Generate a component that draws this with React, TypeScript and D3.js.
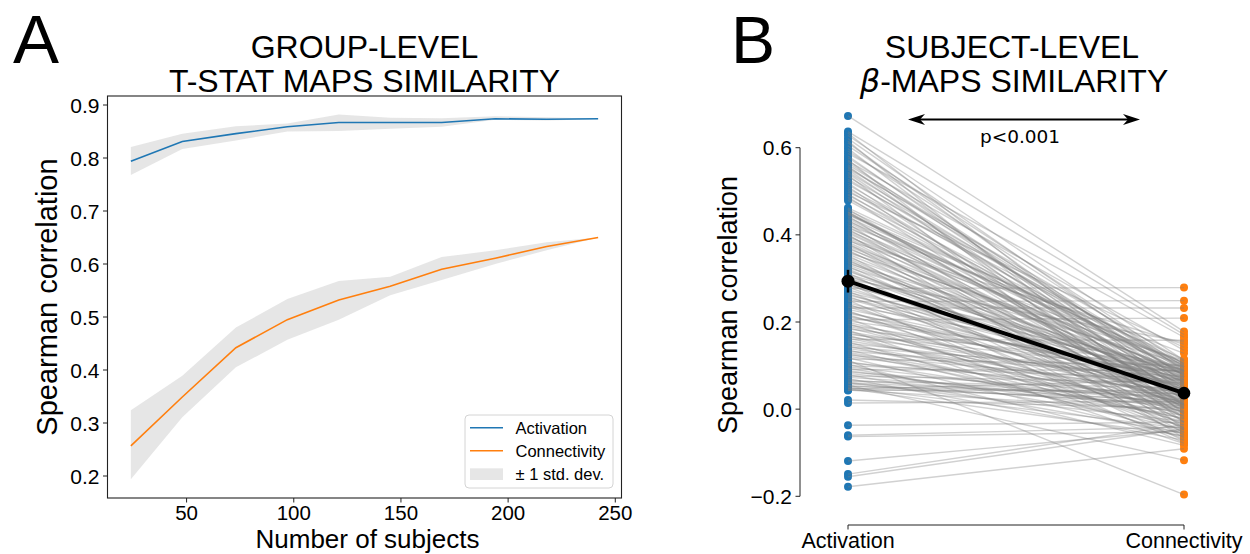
import React from "react";
import * as d3 from "d3";

// ---------- Panel A: group-level similarity vs. number of subjects ----------
const subjectCounts = [24, 48, 73, 97, 121, 145, 169, 194, 218, 242];

const activationMean = [0.794, 0.831, 0.846, 0.859, 0.867, 0.867, 0.867, 0.874, 0.873, 0.874];
const activationUpper = [0.821, 0.846, 0.86, 0.865, 0.882, 0.876, 0.875, 0.879, 0.877, 0.874];
const activationLower = [0.768, 0.817, 0.833, 0.85, 0.851, 0.855, 0.859, 0.872, 0.871, 0.873];

const connectivityMean = [0.257, 0.349, 0.442, 0.495, 0.532, 0.558, 0.59, 0.611, 0.633, 0.65];
const connectivityUpper = [0.324, 0.389, 0.48, 0.534, 0.568, 0.576, 0.613, 0.626, 0.641, 0.65];
const connectivityLower = [0.194, 0.311, 0.405, 0.457, 0.495, 0.541, 0.57, 0.6, 0.626, 0.65];

const xTicksA = [50, 100, 150, 200, 250];
const yTicksA = [0.2, 0.3, 0.4, 0.5, 0.6, 0.7, 0.8, 0.9];

// ---------- Panel B: subject-level similarity, paired per subject ----------
const conditions = ["Activation", "Connectivity"];
const yTicksB = [-0.2, 0.0, 0.2, 0.4, 0.6];

const activationRho = [
  0.637, 0.633, 0.628, 0.621, 0.615, 0.611, 0.604, 0.598, 0.592, 0.587,
  0.581, 0.577, 0.572, 0.569, 0.566, 0.561, 0.558, 0.555, 0.552, 0.549,
  0.544, 0.541, 0.537, 0.533, 0.528, 0.524, 0.519, 0.515, 0.511, 0.506,
  0.502, 0.498, 0.494, 0.491, 0.487, 0.483, 0.479, 0.462, 0.459, 0.456,
  0.453, 0.451, 0.449, 0.447, 0.452,
  0.446, 0.443, 0.44, 0.437, 0.434, 0.431, 0.428, 0.425, 0.422, 0.419,
  0.416, 0.413, 0.41, 0.407, 0.404, 0.401, 0.398, 0.395, 0.392, 0.389,
  0.386, 0.383, 0.38, 0.377, 0.374, 0.371, 0.368, 0.365, 0.362, 0.359,
  0.356, 0.353,
  0.349, 0.346, 0.343, 0.34, 0.337, 0.334, 0.331, 0.328, 0.325, 0.322,
  0.319, 0.316, 0.313, 0.31, 0.307, 0.304, 0.301, 0.298, 0.295, 0.292,
  0.289, 0.286, 0.283, 0.28, 0.277, 0.274, 0.271, 0.268, 0.265, 0.262,
  0.259, 0.256, 0.253, 0.25, 0.247,
  0.244, 0.241, 0.238, 0.235, 0.232, 0.229, 0.226, 0.223, 0.22, 0.217,
  0.214, 0.211, 0.208, 0.205, 0.202, 0.199, 0.196, 0.193, 0.19, 0.187,
  0.184, 0.181, 0.178, 0.175, 0.172, 0.169, 0.166, 0.163, 0.16, 0.157,
  0.154, 0.151, 0.148, 0.145, 0.142,
  0.139, 0.136, 0.133, 0.13, 0.127, 0.124, 0.121, 0.118, 0.115, 0.112,
  0.109, 0.106, 0.103, 0.1, 0.097, 0.094, 0.091, 0.088, 0.085, 0.082,
  0.079, 0.076, 0.073, 0.07, 0.067, 0.064, 0.061, 0.058, 0.055, 0.052,
  0.05, 0.048, 0.046, 0.044, 0.043, 0.047, 0.054, 0.06,
  0.673, 0.021, 0.014, -0.037, -0.06, -0.063, -0.119, -0.149, -0.155, -0.178,
];

const connectivityRho = [
  0.171, 0.034, 0.112, 0.088, -0.012, 0.061, 0.103, 0.019, 0.097, 0.165,
  0.045, 0.074, -0.031, 0.135, 0.056, 0.091, 0.008, 0.087, 0.11, 0.041,
  0.078, 0.027, -0.045, 0.094, 0.066, 0.099, 0.012, 0.078, -0.019, 0.104,
  0.051, 0.142, 0.033, 0.085, -0.007, 0.082, 0.061, 0.097, 0.002, 0.101,
  0.047, 0.027, 0.073, 0.115, 0.029,
  0.087, -0.021, 0.094, 0.052, 0.009, 0.106, 0.068, -0.048, 0.128, 0.037,
  0.079, -0.004, 0.078, 0.043, 0.041, -0.066, 0.024, 0.107, 0.061, 0.005,
  0.149, 0.031, -0.029, 0.086, 0.072, 0.014, 0.088, -0.011, 0.057, 0.111,
  0.039, -0.054,
  0.064, 0.011, -0.038, 0.045, 0.027, 0.103, 0.049, -0.017, 0.082, 0.003,
  0.006, 0.058, -0.059, 0.081, 0.036, 0.077, -0.026, 0.154, 0.018, 0.069,
  -0.072, 0.046, 0.091, 0.008, 0.279, 0.054, -0.043, 0.087, 0.022, 0.075,
  -0.008, 0.062, 0.039, -0.077, 0.249,
  0.051, -0.034, 0.098, 0.013, 0.232, 0.066, -0.052, 0.029, 0.072, -0.015,
  0.041, 0.083, -0.068, 0.209, 0.097, 0.022, -0.041, 0.074, 0.035, -0.006,
  0.092, -0.079, 0.047, 0.016, 0.085, -0.029, 0.058, 0.001, 0.158, 0.031,
  -0.058, 0.069, 0.012, -0.022, 0.086,
  0.038, -0.047, 0.074, 0.005, -0.021, 0.056, 0.019, -0.063, 0.101, -0.196,
  -0.009, 0.044, -0.083, 0.068, 0.011, -0.036, 0.089, -0.014, 0.032, 0.003,
  -0.055, 0.061, 0.024, -0.071, 0.015, 0.049, -0.028, 0.008, -0.117, 0.036,
  -0.044, 0.021, 0.067, -0.003, 0.043, -0.061, 0.012, 0.029,
  0.178, 0.002, 0.018, -0.03, -0.041, -0.052, -0.048, -0.035, -0.045, -0.091,
];

const BLUE = "#1f77b4";
const ORANGE = "#ff7f0e";
const SANS = "'Liberation Sans', Arial, Helvetica, sans-serif";
const DEJAVU = "'DejaVu Sans', sans-serif";

const fmt1 = (v: number) => d3.format(".1f")(v).replace("-", "\u2212");

function PanelA() {
  const x = d3.scaleLinear().domain([13.1, 252.9]).range([107.5, 621.5]);
  const y = d3.scaleLinear().domain([0.1585, 0.917]).range([498, 96]);
  const idx = d3.range(subjectCounts.length);

  const band = (lo: number[], hi: number[]) =>
    d3
      .area<number>()
      .x((i) => x(subjectCounts[i]))
      .y0((i) => y(lo[i]))
      .y1((i) => y(hi[i]))(idx) as string;
  const line = (vals: number[]) =>
    d3
      .line<number>()
      .x((i) => x(subjectCounts[i]))
      .y((i) => y(vals[i]))(idx) as string;

  const [x0, x1] = x.range();
  const [yb, yt] = y.range();

  return (
    <g>
      <text x={13} y={63} fontFamily={SANS} fontSize={69}>A</text>
      <text x={(x0 + x1) / 2} y={58} textAnchor="middle" fontFamily={SANS} fontSize={32}>
        GROUP-LEVEL
      </text>
      <text x={(x0 + x1) / 2} y={92} textAnchor="middle" fontFamily={SANS} fontSize={32}>
        T-STAT MAPS SIMILARITY
      </text>

      <path d={band(activationLower, activationUpper)} fill="#808080" fillOpacity={0.2} />
      <path d={band(connectivityLower, connectivityUpper)} fill="#808080" fillOpacity={0.2} />
      <path d={line(activationMean)} fill="none" stroke={BLUE} strokeWidth={1.6} />
      <path d={line(connectivityMean)} fill="none" stroke={ORANGE} strokeWidth={1.6} />

      <rect x={x0} y={yt} width={x1 - x0} height={yb - yt} fill="none" stroke="#222" strokeWidth={1.1} />

      {xTicksA.map((t) => (
        <g key={t}>
          <line x1={x(t)} x2={x(t)} y1={yb} y2={yb + 4.5} stroke="#222" strokeWidth={1} />
          <text x={x(t)} y={519.5} textAnchor="middle" fontFamily={SANS} fontSize={20.5}>
            {t}
          </text>
        </g>
      ))}
      {yTicksA.map((t) => (
        <g key={t}>
          <line x1={x0 - 4.5} x2={x0} y1={y(t)} y2={y(t)} stroke="#222" strokeWidth={1} />
          <text x={x0 - 8} y={y(t)} dy="0.36em" textAnchor="end" fontFamily={SANS} fontSize={21}>
            {fmt1(t)}
          </text>
        </g>
      ))}

      <text x={(x0 + x1) / 2 + 3} y={547.5} textAnchor="middle" fontFamily={SANS} fontSize={26}>
        Number of subjects
      </text>
      <text
        transform={`translate(57, ${(yb + yt) / 2}) rotate(-90)`}
        textAnchor="middle"
        fontFamily={SANS}
        fontSize={29}
      >
        Spearman correlation
      </text>

      {/* legend */}
      <g fontFamily={SANS} fontSize={16.5}>
        <rect x={465} y={415} width={148} height={73} rx={4} fill="#fff" fillOpacity={0.8} stroke="#d4d4d4" />
        <line x1={470} x2={503} y1={427.7} y2={427.7} stroke={BLUE} strokeWidth={1.6} />
        <text x={515.5} y={427.7} dy="0.36em">Activation</text>
        <line x1={470} x2={503} y1={450.7} y2={450.7} stroke={ORANGE} strokeWidth={1.6} />
        <text x={515.5} y={450.7} dy="0.36em">Connectivity</text>
        <rect x={470} y={468.3} width={33} height={11.7} fill="#808080" fillOpacity={0.2} />
        <text x={515.5} y={474.3} dy="0.36em">± 1 std. dev.</text>
      </g>
    </g>
  );
}

function PanelB() {
  const x = d3.scalePoint<string>().domain(conditions).range([848, 1184]);
  const y = d3.scaleLinear().domain([-0.2, 0.6]).range([496.3, 147.7]);
  const xa = x("Activation") as number;
  const xc = x("Connectivity") as number;

  const n = activationRho.length;
  const meanA = d3.mean(activationRho) as number;
  const meanC = d3.mean(connectivityRho) as number;
  const ciA = (1.96 * (d3.deviation(activationRho) as number)) / Math.sqrt(n);
  const ciC = (1.96 * (d3.deviation(connectivityRho) as number)) / Math.sqrt(n);

  const arrowY = 119.5;
  const ax0 = 908;
  const ax1 = 1140;

  return (
    <g>
      <text x={731} y={63} fontFamily={SANS} fontSize={66}>B</text>
      <text x={1012} y={58} textAnchor="middle" fontFamily={SANS} fontSize={32}>
        SUBJECT-LEVEL
      </text>
      <text x={1014} y={92} textAnchor="middle" fontFamily={SANS} fontSize={32}>
        <tspan fontFamily={DEJAVU} fontStyle="italic">β</tspan>-MAPS SIMILARITY
      </text>

      {/* significance arrow */}
      <line x1={ax0 + 10} x2={ax1 - 10} y1={arrowY} y2={arrowY} stroke="#000" strokeWidth={2} />
      <path
        d={`M${ax0},${arrowY} L${ax0 + 17},${arrowY - 5.5} L${ax0 + 12},${arrowY} L${ax0 + 17},${arrowY + 5.5} Z`}
        fill="#000"
      />
      <path
        d={`M${ax1},${arrowY} L${ax1 - 17},${arrowY - 5.5} L${ax1 - 12},${arrowY} L${ax1 - 17},${arrowY + 5.5} Z`}
        fill="#000"
      />
      <text x={1020} y={143} textAnchor="middle" fontFamily={DEJAVU} fontSize={18.5}>
        p&lt;0.001
      </text>

      {/* per-subject points */}
      {activationRho.map((v, i) => (
        <circle key={`a${i}`} cx={xa} cy={y(v)} r={4} fill={BLUE} />
      ))}
      {connectivityRho.map((v, i) => (
        <circle key={`c${i}`} cx={xc} cy={y(v)} r={4} fill={ORANGE} />
      ))}
      {/* per-subject pairing lines */}
      {activationRho.map((v, i) => (
        <line
          key={`l${i}`}
          x1={xa}
          x2={xc}
          y1={y(v)}
          y2={y(connectivityRho[i])}
          stroke="#808080"
          strokeOpacity={0.36}
          strokeWidth={1.4}
        />
      ))}

      {/* group means */}
      <line x1={xa} x2={xa} y1={y(meanA - ciA)} y2={y(meanA + ciA)} stroke="#000" strokeWidth={2.5} />
      <line x1={xc} x2={xc} y1={y(meanC - ciC)} y2={y(meanC + ciC)} stroke="#000" strokeWidth={2.5} />
      <line x1={xa} x2={xc} y1={y(meanA)} y2={y(meanC)} stroke="#000" strokeWidth={4} />
      <circle cx={xa} cy={y(meanA)} r={6.5} fill="#000" />
      <circle cx={xc} cy={y(meanC)} r={6.3} fill="#000" />

      {/* axes */}
      <line x1={800} x2={800} y1={y(0.6)} y2={y(-0.2)} stroke="#222" strokeWidth={1} />
      {yTicksB.map((t) => (
        <g key={t}>
          <line x1={795.5} x2={800} y1={y(t)} y2={y(t)} stroke="#222" strokeWidth={1} />
          <text x={792} y={y(t)} dy="0.36em" textAnchor="end" fontFamily={SANS} fontSize={21}>
            {fmt1(t)}
          </text>
        </g>
      ))}
      <line x1={xa} x2={xc} y1={525} y2={525} stroke="#222" strokeWidth={1} />
      {conditions.map((c) => (
        <g key={c}>
          <line x1={x(c)} x2={x(c)} y1={525} y2={529.5} stroke="#222" strokeWidth={1} />
          <text x={x(c)} y={548} textAnchor="middle" fontFamily={SANS} fontSize={21.5}>
            {c}
          </text>
        </g>
      ))}
      <text
        transform="translate(737, 305) rotate(-90)"
        textAnchor="middle"
        fontFamily={SANS}
        fontSize={27}
      >
        Spearman correlation
      </text>
    </g>
  );
}

export default function App() {
  return (
    <svg
      width={1250}
      height={554}
      viewBox="0 0 1250 554"
      style={{ position: "absolute", left: 0, top: 0, background: "#fff" }}
    >
      <rect width={1250} height={554} fill="#fff" />
      <PanelA />
      <PanelB />
    </svg>
  );
}
